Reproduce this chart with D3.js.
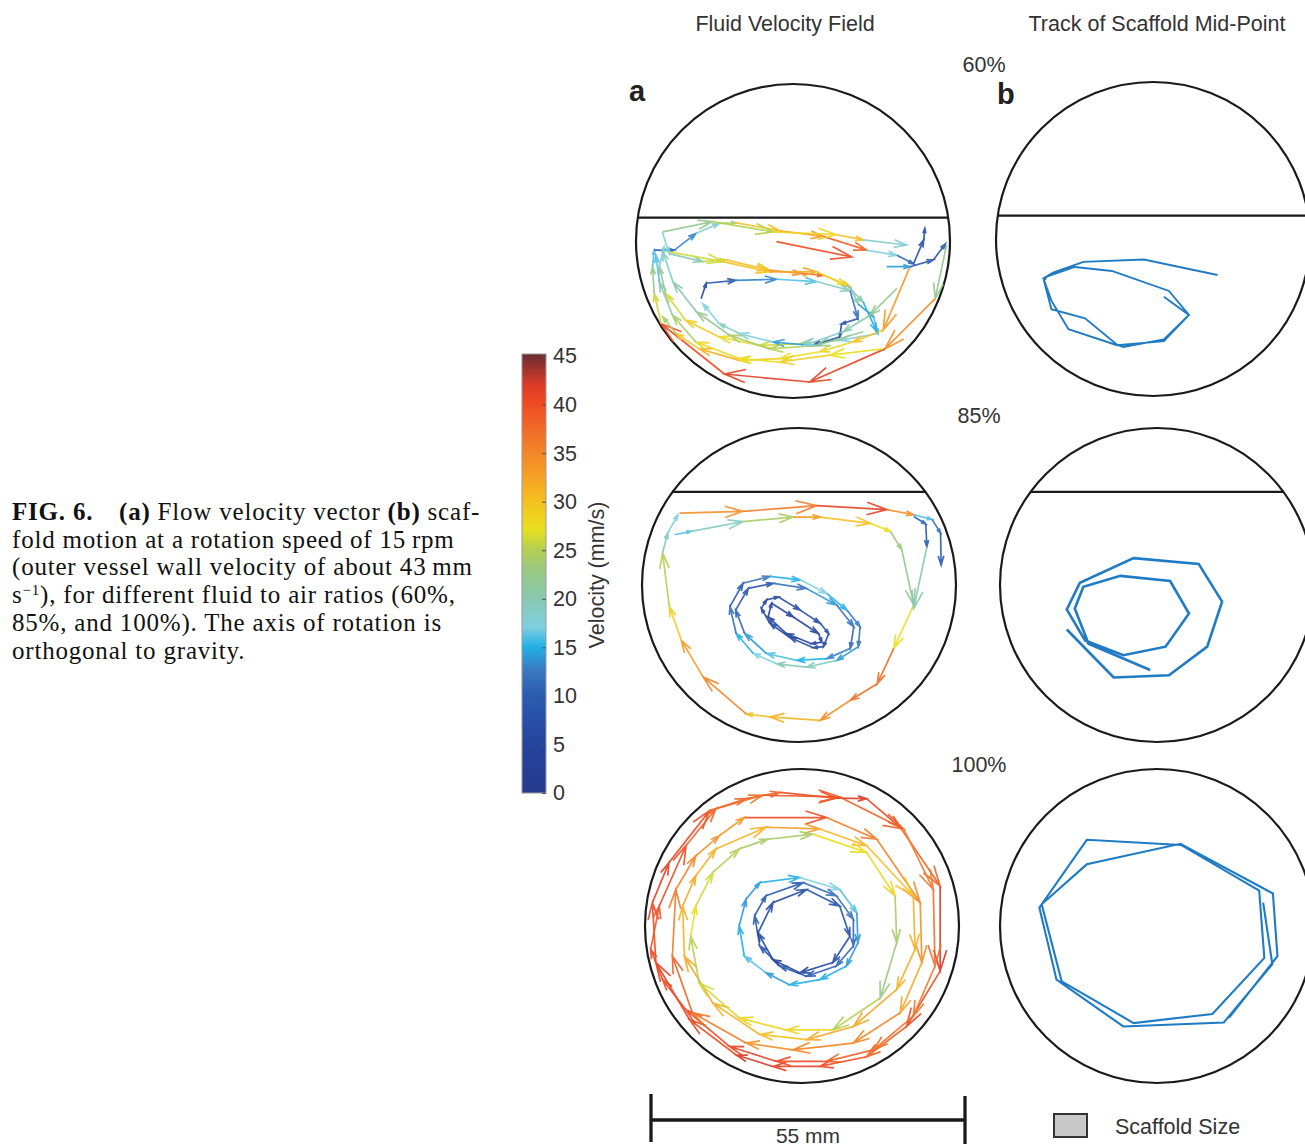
<!DOCTYPE html>
<html lang="en">
<head>
<meta charset="UTF-8">
<title>FIG. 6 flow velocity and scaffold track</title>
<style>
  body { margin: 0; background: #fff; }
  svg { display: block; background: #fff; }
  .lbl { font-family: "Liberation Sans", Arial, Helvetica, sans-serif; fill: #333; }
  .cap { font-family: "Liberation Serif", "Times New Roman", serif; fill: #111; font-size: 25px; letter-spacing: 0.8px; }
</style>
<script src="https://cdn.jsdelivr.net/npm/d3@7"></script>
</head>
<body>
<div id="chart"></div>
<script>
// ---- data (positions in mm from vessel centre, y up; v = speed in mm/s) ----
const ratioLabels = ["60%", "85%", "100%"];
const surfaceHeight = [4.1, 16.3, null];   // fluid surface, mm above centre
const cbTicks = [0, 5, 10, 15, 20, 25, 30, 35, 40, 45];
const cbStops = [0, 5, 10, 12.5, 15, 17, 20, 23, 25, 27, 30, 33, 36, 40, 42, 44, 45];
const cbColors = ["#273a8e", "#25449c", "#2a5cb0", "#3a78c0", "#22b0e6", "#7fd0e0", "#88c8b0", "#9cc880",
  "#b4d050", "#e8e020", "#f5c020", "#f59a25", "#f27a2a", "#ee4a22", "#d83a28", "#8c3030", "#6a2e2e"];

const flow60 = [
  [[26.9,-0.7,22],[24.9,-10.1,34],[16.1,-18.9,41],[2.9,-24.7,41],[-12.0,-23.3,40],[-23.1,-14.5,26],[-24.3,-9.2,22],
   [-24.6,-4.5,16],[-24.3,-1.6,10],[-20.8,-1.6,13],[-17.0,1.3,18],[-12.9,3.1,24],[-10.0,3.2,30],[-2.3,1.8,33],
   [5.3,0.8,38],[12.9,-1.6,17],[18.2,-2.5,11],[21.1,-4.0,8],[22.9,0.2,7],[23.1,2.2,0]],
  [[-22.9,1.6,17],[-21.7,-2.2,20],[-15.8,-3.6,26],[-11.7,-3.3,30],[-4.1,-5.1,34],[1.5,-5.7,38],[5.3,-6.0,30],
   [10.0,-8.0,20],[11.4,-11.0,14],[14.1,-13.3,16],[14.9,-16.2,18],[8.2,-17.4,22],[1.2,-18.0,26],[-5.9,-18.3,28],
   [-12.9,-16.8,29],[-18.8,-13.9,26],[-22.3,-9.2,22],[-23.4,-4.5,18],[-22.6,-1.0,0]],
  [[-16.1,-10.1,6],[-15.2,-7.4,9],[-10.0,-6.9,13],[-2.9,-6.7,16],[4.1,-7.1,19],[10.0,-8.7,12],[11.4,-13.6,8],
   [8.5,-14.5,6],[8.2,-16.8,9],[3.5,-18.3,14],[-3.5,-17.7,17],[-9.4,-16.2,19],[-12.9,-14.5,17],[-15.8,-11.0,0]],
  [[20.5,-4.5,33],[15.8,-15.6,30],[10.5,-17.7,28],[4.7,-19.4,27],[-2.3,-20.6,29],[-9.4,-20.9,31],[-16.4,-18.9,29],
   [-20.5,-16.2,24],[-22.8,-13.3,0]],
  [[16.4,-4.5,14],[20.5,-4.5,9],[24.6,-3.3,9],[26.7,-0.5,0]],
  [[15.8,-18.9,27],[6.4,-20.0,29],[-2.3,-21.2,27],[-9.4,-20.6,28],[-17.0,-17.7,24],[-21.1,-13.0,20],[-23.4,-7.2,16],[-24.0,-2.5,0]],
  [[12.3,-15.9,22],[4.1,-18.3,25],[-4.1,-18.9,24],[-11.1,-16.5,22],[-16.9,-12.4,20],[-21.0,-7.2,18],[-22.8,-1.9,0]],
  [[-22.8,1.6,22],[-14.1,3.4,25],[-3.5,1.6,28],[7.6,1.1,30],[12.3,0.2,18],[19.9,-0.7,0]],
  [[-21.7,-1.9,26],[-12.3,-3.6,30],[-4.1,-5.4,32],[4.1,-5.4,28],[9.4,-7.7,20],[12.3,-10.7,15],[14.7,-15.9,0]],
  [[18.2,-8.3,22],[13.5,-13.0,20],[8.8,-15.9,18],[1.8,-18.3,0]],
  [[-2.9,-0.1,40],[10.3,-2.8,0]]
];

const flow85 = [
  [[-20.9,12.6,34],[-9.8,12.9,36],[3.1,13.9,41],[15.4,13.2,34],[20.1,12.3,16],[23.3,11.5,12],[24.8,9.1,10],[24.9,3.5,0]],
  [[-21.8,8.8,16],[-18.9,9.4,19],[-9.8,11.1,24],[-1.0,11.9,33],[3.7,11.9,30],[12.5,10.8,27],[16.0,9.4,23],[18.0,6.2,22],
   [20.1,-3.5,27],[16.6,-11.1,37],[13.7,-17.3,37],[9.0,-20.2,34],[3.7,-23.7,31],[-5.1,-23.1,30],[-9.2,-22.6,35],
   [-16.8,-16.1,33],[-20.6,-9.7,29],[-22.7,-3.8,25],[-23.9,5.6,20],[-23.0,9.1,17],[-21.2,12.3,0]],
  [[20.1,12.0,11],[22.2,10.7,10],[22.4,6.7,20],[20.1,-4.1,0]],
  [[-9.8,0.3,12],[-5.1,1.5,15],[0.2,0.9,17],[4.9,-1.5,15],[8.4,-4.4,13],[10.7,-7.3,12],[10.4,-10.8,14],[6.6,-13.2,19],
   [1.3,-14.4,20],[-3.9,-13.8,17],[-8.0,-12.0,15],[-11.0,-8.5,12],[-12.1,-3.8,10],[-9.8,0.3,0]],
  [[-8.9,-0.6,8],[-4.5,0.3,12],[1.3,-0.6,14],[6.6,-3.5,12],[9.6,-7.3,11],[9.0,-11.1,13],[4.9,-12.9,15],[-0.4,-13.2,16],
   [-5.7,-12.0,14],[-9.5,-8.5,11],[-11.1,-4.4,9],[-8.9,-0.6,0]],
  [[-5.7,-2.6,6],[-3.6,-2.1,6],[0.2,-4.4,7],[3.7,-6.7,7],[5.2,-8.5,6],[4.3,-10.8,6],[2.5,-11.0,7],[-1.6,-9.2,7],
   [-5.1,-6.7,6],[-6.6,-4.1,6],[-5.7,-2.6,0]],
  [[-4.8,-3.2,5],[-1.0,-5.6,5],[3.4,-8.5,5],[4.0,-10.0,5],[2.2,-10.3,5],[-2.2,-8.5,5],[-5.4,-5.6,5],[-4.8,-3.2,0]]
];

const flow100 = [
  [[-9.8,22.3,38],[-3.9,23.4,40],[6.0,22.4,42],[11.3,22.3,40],[17.2,17.3,38],[24.2,7.0,42],[24.2,-7.9,40],[18.3,-17.6,38],
   [11.3,-22.9,40],[3.1,-24.6,41],[-5.1,-24.6,42],[-11.5,-22.6,40],[-19.7,-16.4,41],[-25.6,-6.4,40],[-26.2,4.1,41],
   [-23.3,11.1,40],[-16.2,20.2,38],[-9.8,22.3,0]],
  [[-26.5,-4.1,39],[-25.0,3.5,40],[-20.3,14.1,38],[-15.1,20.5,37],[-6.9,22.9,39],[6.6,22.6,38],[17.8,17.0,36],[23.0,6.4,37],
   [23.3,-7.0,36],[19.5,-15.8,37],[12.5,-21.7,38],[4.3,-23.7,40],[-4.5,-23.7,41],[-12.7,-21.1,40],[-20.3,-14.7,40],
   [-24.4,-9.4,40],[-26.5,-4.1,0]],
  [[-10.1,19.0,40],[4.3,19.0,36],[13.1,15.2,35],[20.7,4.1,34],[21.0,-6.4,32],[17.2,-15.2,35],[9.0,-20.5,35],[-1.6,-21.7,34],
   [-9.8,-20.5,36],[-19.2,-15.2,38],[-22.7,-5.3,36],[-22.1,6.4,35],[-18.6,12.3,34],[-14.5,15.8,33],[-10.1,19.0,0]],
  [[-15.1,13.5,31],[-6.3,17.3,33],[3.1,17.0,31],[11.3,14.1,30],[19.5,5.3,31],[19.8,-4.1,31],[16.6,-11.1,32],[9.0,-17.6,32],
   [0.8,-19.9,30],[-7.4,-19.0,31],[-15.6,-13.5,32],[-20.6,-5.3,31],[-20.9,3.5,32],[-18.6,8.8,31],[-15.1,13.5,0]],
  [[-6.0,15.2,24],[1.9,16.1,27],[11.3,12.9,28],[16.3,5.3,24],[16.6,-2.9,23],[13.7,-12.6,25],[5.4,-18.2,28],[-2.8,-18.2,28],
   [-11.0,-16.1,26],[-18.0,-10.0,25],[-19.5,-1.8,27],[-18.6,3.5,26],[-15.6,9.4,25],[-11.0,13.5,24],[-6.0,15.2,0]],
  [[-7.4,7.6,15],[-0.4,8.5,17],[6.6,6.4,16],[9.6,2.3,14],[9.8,-2.9,14],[7.8,-7.0,15],[3.1,-9.4,15],[-2.2,-10.3,14],
   [-6.3,-8.2,16],[-10.1,-5.3,15],[-11.0,0,14],[-9.8,4.7,14],[-7.4,7.6,0]],
  [[-6.3,5.3,10],[0.2,7.6,12],[6.0,5.3,12],[9.0,1.2,11],[9.0,-3.5,11],[6.0,-7.0,10],[0.8,-8.8,9],[-3.9,-7.0,9],
   [-7.4,-3.5,10],[-8.3,1.8,10],[-6.3,5.3,0]],
  [[-5.1,4.1,7],[0.8,6.4,8],[6.6,3.5,8],[8.4,-1.8,7],[5.4,-6.4,6],[-0.4,-8.2,6],[-5.1,-5.9,6],[-7.7,-1.2,7],[-5.1,4.1,0]]
];

const track60 = [[1.9,-10.1],[6.3,-13.3],[1.9,-17.6],[-5.2,-18.9],[-6.3,-18.5],[-11.9,-13.9],[-17.8,-12.3],[-19.1,-7.3],
  [-18.6,-6.6],[-13.7,-4.9],[-7.2,-5.6],[2.8,-9.1],[6.3,-13.3],[1.9,-17.9],[-6.3,-18.6],[-14.8,-15.8],[-17.8,-10.8],
  [-19.2,-6.9],[-17.5,-5.9],[-12.2,-4.0],[-1.6,-3.6],[11.3,-6.3]];
const track85 = [[-15.8,-7.8],[-7.6,-16.2],[2.1,-15.8],[8.8,-10.8],[11.4,-2.9],[7.3,3.7],[-4.1,4.7],[-13.5,0.4],
  [-15.8,-4.3],[-12.6,-9.7],[-5.9,-12.3],[1.5,-10.8],[5.6,-5.0],[2.3,0.7],[-6.4,1.6],[-12.9,-0.3],[-14.4,-4.1],
  [-12.0,-10.3],[-1.2,-14.9]];
const track100 = [[18.6,4.1],[20.2,-6.7],[11.7,-16.9],[-5.9,-17.6],[-17.6,-9.4],[-20.6,3.2],[-12.3,15.1],[4.2,14.2],
  [17.9,6.2],[18.8,-5.6],[9.7,-15.4],[-4.1,-17.0],[-16.7,-9.7],[-20.2,3.8],[-12.3,10.8],[4.1,14.4],[20.3,5.7],
  [21.1,-5.3],[12.6,-16.1]];

// ---- layout ----
const W = 1305, H = 1148;
const R = 157;            // vessel radius on screen
const vesselR = 27.5;     // vessel radius, mm (55 mm diameter)
const centersA = [[793, 241], [799, 585], [802, 926]];
const centersB = [[1153, 239], [1157, 585], [1157, 926]];
const flows = [flow60, flow85, flow100];
const tracks = [track60, track85, track100];
const trackWidth = [1.9, 2.6, 2.1];

const color = d3.scaleLinear().domain(cbStops).range(cbColors).interpolate(d3.interpolateRgb).clamp(true);

const svg = d3.select("#chart").append("svg")
  .attr("width", W).attr("height", H);

function vessel(cx, cy, h) {
  const x = d3.scaleLinear().domain([-vesselR, vesselR]).range([cx - R, cx + R]);
  const y = d3.scaleLinear().domain([-vesselR, vesselR]).range([cy + R, cy - R]);
  const g = svg.append("g");
  g.append("circle").attr("cx", x(0)).attr("cy", y(0)).attr("r", R)
    .attr("fill", "none").attr("stroke", "#1a1a1a").attr("stroke-width", 2.2);
  if (h != null) {
    const hw = Math.sqrt(vesselR * vesselR - h * h);
    g.append("line").attr("x1", x(-hw)).attr("x2", x(hw)).attr("y1", y(h)).attr("y2", y(h))
      .attr("stroke", "#1a1a1a").attr("stroke-width", 2.2);
  }
  return { g, x, y };
}

function drawArrows(p, list) {
  const sp = 0.3;
  list.forEach(t => {
    for (let i = 0; i < t.length - 1; i++) {
      const x0 = p.x(t[i][0]), y0 = p.y(t[i][1]);
      const x1 = p.x(t[i + 1][0]), y1 = p.y(t[i + 1][1]);
      const len = Math.hypot(x1 - x0, y1 - y0);
      const a = Math.atan2(y1 - y0, x1 - x0);
      const hl = Math.max(5, Math.min(len * 0.3, 22));
      const path = d3.path();
      path.moveTo(x0, y0); path.lineTo(x1, y1);
      path.moveTo(x1 - hl * Math.cos(a - sp), y1 - hl * Math.sin(a - sp));
      path.lineTo(x1, y1);
      path.lineTo(x1 - hl * Math.cos(a + sp), y1 - hl * Math.sin(a + sp));
      p.g.append("path").attr("d", path.toString())
        .attr("fill", "none").attr("stroke", color(t[i][2]))
        .attr("stroke-width", 1.7).attr("stroke-opacity", 0.9)
        .attr("stroke-linejoin", "miter");
    }
  });
}

const line = (p) => d3.line().x(d => p.x(d[0])).y(d => p.y(d[1]));

for (let r = 0; r < 3; r++) {
  const pa = vessel(centersA[r][0], centersA[r][1], surfaceHeight[r]);
  drawArrows(pa, flows[r]);
  const pb = vessel(centersB[r][0], centersB[r][1], surfaceHeight[r]);
  pb.g.append("path").datum(tracks[r]).attr("d", line(pb))
    .attr("fill", "none").attr("stroke", "#1f7bc4").attr("stroke-width", trackWidth[r])
    .attr("stroke-linejoin", "miter");
}

// column titles, ratio labels, panel letters
svg.append("text").attr("class", "lbl").attr("x", 785).attr("y", 31).attr("text-anchor", "middle")
  .attr("font-size", 21.5).text("Fluid Velocity Field");
svg.append("text").attr("class", "lbl").attr("x", 1157).attr("y", 31).attr("text-anchor", "middle")
  .attr("font-size", 21.5).text("Track of Scaffold Mid-Point");
const ratioPos = [[984, 72], [979, 423], [979, 772]];
ratioLabels.forEach((t, i) => {
  svg.append("text").attr("class", "lbl").attr("x", ratioPos[i][0]).attr("y", ratioPos[i][1])
    .attr("text-anchor", "middle").attr("font-size", 21.5).text(t);
});
svg.append("text").attr("class", "lbl").attr("x", 629).attr("y", 101).attr("font-size", 29)
  .attr("font-weight", "bold").style("fill", "#222").text("a");
svg.append("text").attr("class", "lbl").attr("x", 997).attr("y", 104).attr("font-size", 29)
  .attr("font-weight", "bold").style("fill", "#222").text("b");

// colour bar
const cbX = 522, cbW = 24, cbTop = 354, cbBot = 793;
const cy = d3.scaleLinear().domain([0, 45]).range([cbBot, cbTop + 2]);
const grad = svg.append("defs").append("linearGradient").attr("id", "cb")
  .attr("x1", 0).attr("x2", 0).attr("y1", 1).attr("y2", 0);
cbStops.forEach((s, i) => grad.append("stop").attr("offset", s / 45).attr("stop-color", cbColors[i]));
svg.append("rect").attr("x", cbX).attr("y", cbTop).attr("width", cbW).attr("height", cbBot - cbTop)
  .attr("fill", "url(#cb)").attr("stroke", "#9a9a9a").attr("stroke-width", 1);
const cbAxis = d3.axisRight(cy).tickValues(cbTicks).tickSize(0).tickPadding(7);
const ax = svg.append("g").attr("transform", `translate(${cbX + cbW},0)`).call(cbAxis);
ax.select(".domain").remove();
ax.selectAll("text").attr("class", "lbl").attr("font-size", 21.5).attr("fill", "#333")
  .attr("font-family", "'Liberation Sans', Arial, sans-serif");
ax.selectAll(".tick").append("line").attr("x1", -4).attr("x2", 0).attr("stroke", "#555").attr("stroke-width", 1);
svg.append("text").attr("class", "lbl").attr("transform", "translate(604,575) rotate(-90)")
  .attr("text-anchor", "middle").attr("font-size", 21.5).text("Velocity (mm/s)");

// scale bar 55 mm
const sb = d3.scaleLinear().domain([0, 55]).range([651, 651 + 2 * R]);
const sbg = svg.append("g").attr("stroke", "#1a1a1a").attr("stroke-width", 3.3);
sbg.append("line").attr("x1", sb(0)).attr("x2", sb(55)).attr("y1", 1120).attr("y2", 1120);
sbg.append("line").attr("x1", sb(0)).attr("x2", sb(0)).attr("y1", 1094).attr("y2", 1142);
sbg.append("line").attr("x1", sb(55)).attr("x2", sb(55)).attr("y1", 1096).attr("y2", 1144);
svg.append("text").attr("class", "lbl").attr("x", sb(27.5)).attr("y", 1143).attr("text-anchor", "middle")
  .attr("font-size", 21).text("55 mm");

// scaffold size legend
svg.append("rect").attr("x", 1054).attr("y", 1114).attr("width", 33).attr("height", 23)
  .attr("fill", "#c8c8c8").attr("stroke", "#333").attr("stroke-width", 2);
svg.append("text").attr("class", "lbl").attr("x", 1115).attr("y", 1134).attr("font-size", 21.5).text("Scaffold Size");

// caption, one text block
const capX = 12, capY = 520, capDy = 27.7;
const cap = svg.append("text").attr("class", "cap").attr("x", capX).attr("y", capY);
cap.append("tspan").attr("font-weight", "bold").text("FIG. 6.");
cap.append("tspan").attr("x", 119).attr("font-weight", "bold").text("(a)");
cap.append("tspan").text(" Flow velocity vector ");
cap.append("tspan").attr("font-weight", "bold").text("(b)");
cap.append("tspan").text(" scaf-");
cap.append("tspan").attr("x", capX).attr("dy", capDy).text("fold motion at a rotation speed of 15\u2009rpm");
cap.append("tspan").attr("x", capX).attr("dy", capDy).text("(outer vessel wall velocity of about 43\u2009mm");
cap.append("tspan").attr("x", capX).attr("dy", capDy).text("s");
cap.append("tspan").attr("font-size", 15).attr("dy", -8).text("\u22121");
cap.append("tspan").attr("dy", 8).text("), for different fluid to air ratios (60%,");
cap.append("tspan").attr("x", capX).attr("dy", capDy).text("85%, and 100%). The axis of rotation is");
cap.append("tspan").attr("x", capX).attr("dy", capDy).text("orthogonal to gravity.");
</script>
</body>
</html>
